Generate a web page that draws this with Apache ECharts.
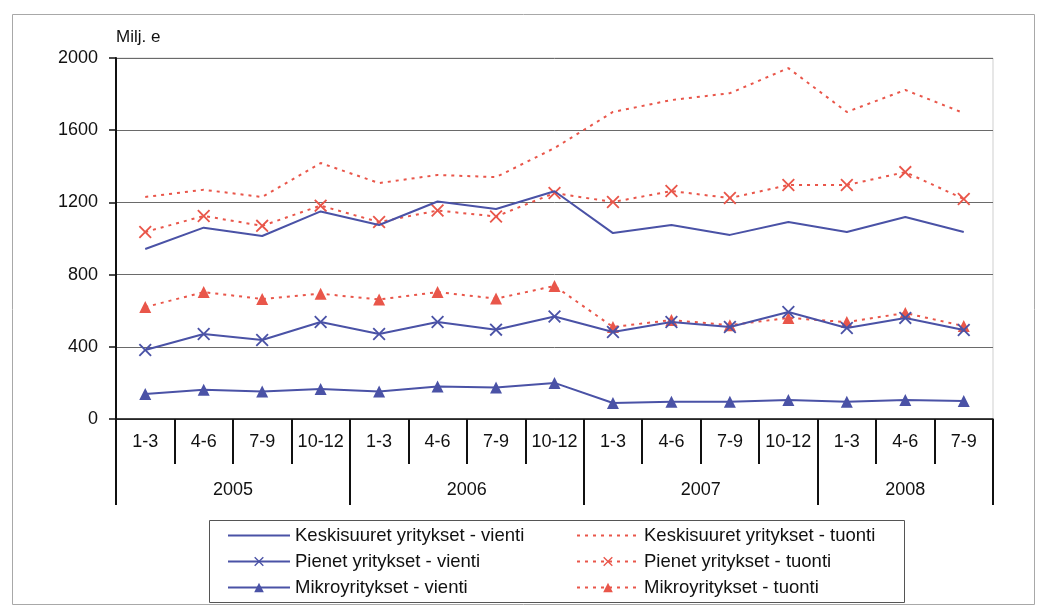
<!DOCTYPE html>
<html>
<head>
<meta charset="utf-8">
<script src="https://cdn.jsdelivr.net/npm/echarts@6/dist/echarts.min.js"></script>
<style>
  html, body { margin: 0; padding: 0; background: #fff; }
  #chart { width: 1043px; height: 605px; }
</style>
</head>
<body>
<div id="chart"></div>
<script>
// neljännekset ja vuodet
const quarters = ['1-3', '4-6', '7-9', '10-12', '1-3', '4-6', '7-9', '10-12',
  '1-3', '4-6', '7-9', '10-12', '1-3', '4-6', '7-9'];
const years = ['2005', '2006', '2007', '2008'];
const yearBounds = [0, 4, 8, 12, 15];   // vuosien rajat neljänneksinä
const yearCenters = [2, 6, 10, 13.5];

// arvot, milj. e
const keskiVienti = [942, 1060, 1014, 1150, 1075, 1205, 1163, 1262, 1030, 1075, 1020, 1091, 1036, 1119, 1036];
const keskiTuonti = [1230, 1270, 1230, 1418, 1307, 1352, 1340, 1501, 1701, 1767, 1805, 1944, 1701, 1823, 1695];
const pienetVienti = [382, 471, 438, 537, 471, 537, 495, 568, 482, 537, 510, 593, 504, 560, 493];
const pienetTuonti = [1036, 1125, 1070, 1182, 1091, 1155, 1122, 1252, 1202, 1263, 1224, 1296, 1296, 1368, 1219];
const mikroVienti = [138, 162, 152, 166, 152, 180, 174, 200, 89, 95, 95, 105, 95, 105, 100];
const mikroTuonti = [620, 703, 665, 694, 662, 703, 667, 737, 510, 548, 520, 560, 537, 587, 515];

const BLUE = '#4a52a6';
const RED = '#e9564a';
const CROSS = 'path://M0,1L1,0L5,4L9,0L10,1L6,5L10,9L9,10L5,6L1,10L0,9L4,5Z';
const FONT = 'Liberation Sans, Arial';

const chart = echarts.init(document.getElementById('chart'));

const vientiLine = (name, data, symbol, size) => ({
  name: name,
  type: 'line',
  data: data,
  symbol: symbol,
  symbolSize: size,
  lineStyle: { color: BLUE, width: 2 },
  itemStyle: { color: BLUE },
  z: 3
});

const tuontiLine = (name, data, symbol, size) => ({
  name: name,
  type: 'line',
  data: data,
  symbol: symbol,
  symbolSize: size,
  lineStyle: { color: RED, width: 2, type: [3, 5] },
  itemStyle: { color: RED },
  z: 2
});

const legendBase = {
  orient: 'vertical',
  top: 521,
  itemWidth: 62,
  itemHeight: 12,
  itemGap: 7,
  selectedMode: false,
  textStyle: { fontFamily: FONT, fontSize: 18.5, color: '#111' }
};

const option = {
  animation: false,
  backgroundColor: '#fff',
  grid: {
    left: 116, right: 50, top: 58, bottom: 186,
    show: true, borderColor: '#cfcfcf', borderWidth: 1
  },
  legend: [
    Object.assign({}, legendBase, {
      left: 222,
      data: [
        { name: 'Keskisuuret yritykset - vienti', itemStyle: { opacity: 0 } },
        'Pienet yritykset - vienti',
        'Mikroyritykset - vienti'
      ]
    }),
    Object.assign({}, legendBase, {
      left: 571,
      data: [
        { name: 'Keskisuuret yritykset - tuonti', itemStyle: { opacity: 0 } },
        'Pienet yritykset - tuonti',
        'Mikroyritykset - tuonti'
      ]
    })
  ],
  xAxis: [
    {
      type: 'category',
      data: quarters,
      boundaryGap: true,
      axisLine: { lineStyle: { color: '#111', width: 1.5 } },
      axisTick: { show: true, length: 45, lineStyle: { color: '#111', width: 2 } },
      axisLabel: { interval: 0, margin: 14, fontFamily: FONT, fontSize: 18, color: '#111' },
      splitLine: { show: false }
    },
    {
      type: 'value',
      position: 'bottom',
      min: 0,
      max: 15,
      axisLine: { show: false },
      axisTick: {
        show: true, length: 86, customValues: yearBounds,
        lineStyle: { color: '#111', width: 2 }
      },
      axisLabel: {
        customValues: yearCenters, margin: 62,
        fontFamily: FONT, fontSize: 18, color: '#111',
        formatter: (v) => years[yearCenters.indexOf(v)]
      },
      splitLine: { show: false }
    }
  ],
  yAxis: {
    type: 'value',
    min: 0,
    max: 2000,
    interval: 400,
    name: 'Milj. e',
    nameLocation: 'end',
    nameGap: 12,
    nameTextStyle: { fontFamily: FONT, fontSize: 17, color: '#111', align: 'left' },
    axisLine: { show: true, lineStyle: { color: '#111', width: 2 } },
    axisTick: { show: true, length: 7, lineStyle: { color: '#111', width: 1.5 } },
    axisLabel: {
      margin: 18, fontFamily: FONT, fontSize: 18, color: '#111',
      formatter: (v) => String(v)
    },
    splitLine: { lineStyle: { color: '#6a6a6a', width: 1 } }
  },
  graphic: [
    {
      type: 'rect', left: 10, top: 12, silent: true,
      shape: { width: 1022, height: 590 },
      style: { fill: 'none', stroke: '#a8a8a8', lineWidth: 1 }
    },
    {
      type: 'rect', left: 207, top: 518, silent: true,
      shape: { width: 695, height: 82 },
      style: { fill: 'none', stroke: '#555', lineWidth: 1 }
    }
  ],
  series: [
    vientiLine('Keskisuuret yritykset - vienti', keskiVienti, 'none', 0),
    tuontiLine('Keskisuuret yritykset - tuonti', keskiTuonti, 'none', 0),
    vientiLine('Pienet yritykset - vienti', pienetVienti, CROSS, 13),
    tuontiLine('Pienet yritykset - tuonti', pienetTuonti, CROSS, 13),
    vientiLine('Mikroyritykset - vienti', mikroVienti, 'triangle', 12),
    tuontiLine('Mikroyritykset - tuonti', mikroTuonti, 'triangle', 12)
  ]
};

chart.setOption(option);
</script>
</body>
</html>
